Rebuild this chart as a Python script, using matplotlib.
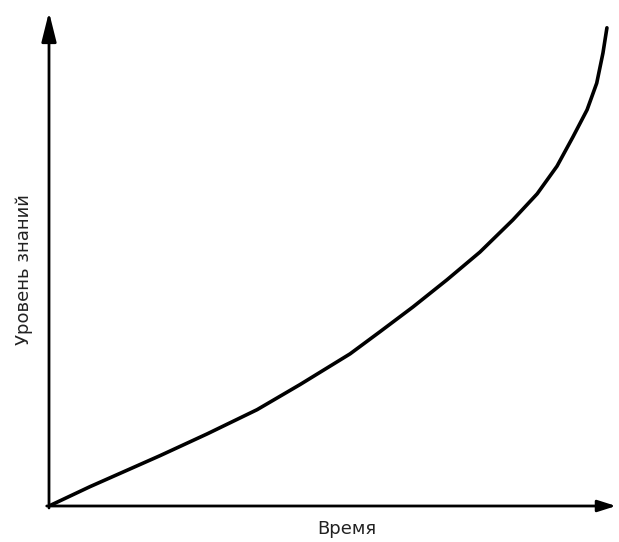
import numpy as np
import matplotlib
matplotlib.use("Agg")
import matplotlib.pyplot as plt

# curve (axis units 0..100)
time_vals = [0, 7.2, 19.6, 27.9, 36.7, 44.3, 53.1, 58.4, 64.2, 70.2, 76.0,
             81.8, 86.1, 89.6, 92.4, 94.9, 96.6, 97.7, 98.4]
knowledge = [0, 3.9, 10.2, 14.6, 19.5, 24.6, 30.8, 35.3, 40.3, 45.8, 51.4,
             57.9, 63.2, 68.8, 74.7, 80.2, 85.6, 91.7, 96.8]

x_label = "Время"
y_label = "Уровень знаний"

plt.rcParams['font.family'] = ['Liberation Sans Narrow', 'DejaVu Sans']

fig = plt.figure(figsize=(6.19, 5.42), dpi=100)
ax = fig.add_axes([49 / 619, 36 / 542, 567 / 619, 494 / 542])
ax.set_xlim(0, 100)
ax.set_ylim(0, 100)
for s in ax.spines.values():
    s.set_visible(False)
ax.set_xticks([])
ax.set_yticks([])

ax.plot(time_vals, knowledge, color='black', lw=2.6,
        solid_capstyle='round', solid_joinstyle='round')

# axes with arrow heads
ax.annotate('', xy=(100, 0), xytext=(-0.4, 0), xycoords='data',
            arrowprops=dict(arrowstyle='-|>,head_length=1.1,head_width=0.35',
                            color='black', lw=2.0, shrinkA=0, shrinkB=0),
            annotation_clip=False)
ax.annotate('', xy=(0, 100), xytext=(0, -0.4), xycoords='data',
            arrowprops=dict(arrowstyle='-|>,head_length=1.8,head_width=0.45',
                            color='black', lw=2.0, shrinkA=0, shrinkB=0),
            annotation_clip=False)

fig.text(347 / 619, 1 - 529 / 542, x_label, ha='center', va='center',
         fontsize=13, color='#222222')
fig.text(24 / 619, 1 - 270 / 542, y_label, ha='center', va='center',
         rotation=90, fontsize=13, color='#222222')

fig.savefig('out.png', dpi=100, facecolor='white')
